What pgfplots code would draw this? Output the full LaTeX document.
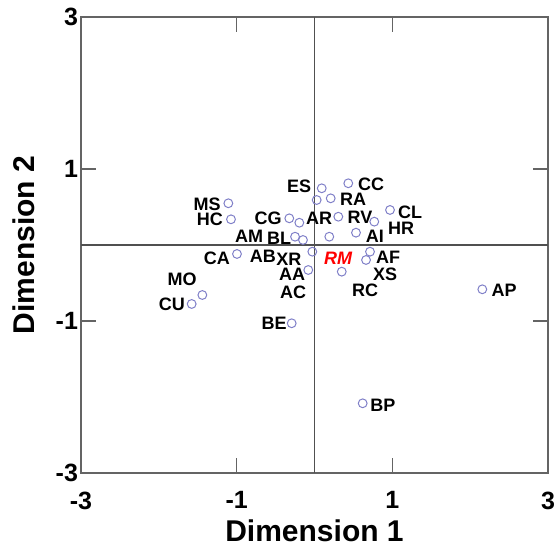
\documentclass[border=0pt]{standalone}
\usepackage{pgfplots}
\pgfplotsset{compat=1.18}
\usepackage{fontspec}
\setmainfont{Liberation Sans}

\definecolor{ringcol}{RGB}{128,128,200}
\definecolor{framecol}{RGB}{100,100,100}
\definecolor{zerocol}{RGB}{80,80,80}

\begin{document}
\begin{tikzpicture}
\begin{axis}[
  scale only axis,
  width=233.5pt, height=228pt,
  xmin=-3, xmax=3, ymin=-3, ymax=3,
  xtick={-3,-1,1,3}, ytick={-3,-1,1,3},
  tick align=inside,
  major tick length=7.5pt,
  axis line style={draw=framecol, line width=0.8pt},
  tick style={draw=framecol, line width=0.8pt},
  /pgf/number format/assume math mode=true,
  ticklabel style={font=\fontsize{12.5}{14}\selectfont\bfseries},
  xticklabel style={yshift=-5.8pt},
  yticklabel style={xshift=2pt},
  xlabel={Dimension 1}, ylabel={Dimension 2},
  label style={font=\fontsize{15}{18}\selectfont\bfseries},
  xlabel style={at={(axis description cs:0.5,-0.127)}, anchor=center},
  ylabel style={at={(axis description cs:-0.122,0.5)}, anchor=center},
  clip=false,
]
% zero reference lines
\draw[zerocol, line width=0.7pt] (axis cs:0,-3) -- (axis cs:0,3);
\draw[zerocol, line width=0.7pt] (axis cs:-3,0) -- (axis cs:3,0);

% object scores
\addplot[only marks, mark=o, mark size=2.2pt,
  mark options={draw=ringcol, line width=0.5pt}] table {
x y
0.434 0.812
0.093 0.746
0.208 0.614
0.028 0.592
0.306 0.372
0.768 0.307
0.970 0.461
0.533 0.162
0.190 0.109
-0.028 -0.088
0.713 -0.088
0.662 -0.197
0.350 -0.351
-0.080 -0.329
-1.107 0.549
-1.073 0.338
-0.324 0.351
-0.195 0.293
-0.250 0.109
-0.148 0.066
-0.996 -0.118
-1.578 -0.776
-1.441 -0.658
-0.293 -1.030
2.156 -0.583
0.619 -2.083
};

% point names
\begin{scope}[every node/.style={font=\fontsize{9}{10}\selectfont\bfseries, inner sep=0pt}]
\node at (axis cs:-0.199,0.776) {ES};
\node at (axis cs:0.726,0.803) {CC};
\node at (axis cs:0.495,0.605) {RA};
\node at (axis cs:-1.381,0.539) {MS};
\node at (axis cs:-1.343,0.342) {HC};
\node at (axis cs:-0.597,0.355) {CG};
\node at (axis cs:0.058,0.355) {AR};
\node at (axis cs:0.585,0.368) {RV};
\node at (axis cs:1.227,0.434) {CL};
\node at (axis cs:1.112,0.224) {HR};
\node at (axis cs:-0.841,0.118) {AM};
\node at (axis cs:-0.456,0.092) {BL};
\node at (axis cs:0.777,0.118) {AI};
\node at (axis cs:-1.253,-0.171) {CA};
\node at (axis cs:-0.662,-0.145) {AB};
\node at (axis cs:-0.328,-0.184) {XR};
\node[text=red, font=\fontsize{9}{10}\selectfont\bfseries\itshape] at (axis cs:0.302,-0.171) {RM};
\node at (axis cs:0.945,-0.158) {AF};
\node at (axis cs:0.906,-0.382) {XS};
\node at (axis cs:-0.289,-0.385) {AA};
\node at (axis cs:-0.276,-0.620) {AC};
\node at (axis cs:0.649,-0.592) {RC};
\node at (axis cs:-1.702,-0.447) {MO};
\node at (axis cs:-1.831,-0.776) {CU};
\node at (axis cs:2.435,-0.592) {AP};
\node at (axis cs:-0.520,-1.026) {BE};
\node at (axis cs:0.880,-2.105) {BP};
\end{scope}

\coordinate (sw) at (rel axis cs:0,0);
\coordinate (ne) at (rel axis cs:1,1);
\end{axis}
\pgfresetboundingbox
\path ([shift={(-40.5pt,-37pt)}]sw) rectangle ([shift={(5pt,8.5pt)}]ne);
\end{tikzpicture}
\end{document}
